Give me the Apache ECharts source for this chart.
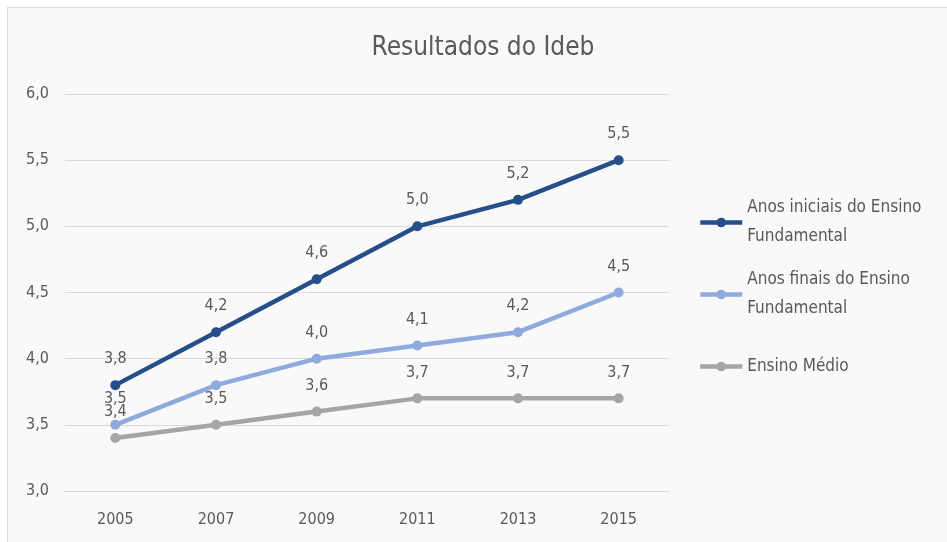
<!DOCTYPE html>
<html>
<head>
<meta charset="utf-8">
<script src="https://cdn.jsdelivr.net/npm/echarts@6/dist/echarts.min.js"></script>
<style>
  html, body { margin: 0; padding: 0; background: #ffffff; overflow: hidden; }
  #chart {
    position: absolute;
    left: 7px;
    top: 7px;
    width: 939px;
    height: 534px;
    border-left: 1px solid #d9d9d9;
    border-top: 1px solid #d9d9d9;
    background: #f9f9f9;
  }
</style>
</head>
<body>
<div id="chart"></div>
<script>
const years = ['2005', '2007', '2009', '2011', '2013', '2015']
const anosIniciais = [3.8, 4.2, 4.6, 5.0, 5.2, 5.5]
const anosFinais = [3.5, 3.8, 4.0, 4.1, 4.2, 4.5]
const ensinoMedio = [3.4, 3.5, 3.6, 3.7, 3.7, 3.7]
const yTicks = [3.0, 3.5, 4.0, 4.5, 5.0, 5.5, 6.0]

const fontFamily = '"Liberation Sans Narrow", "DejaVu Sans Condensed", Lato, sans-serif'
const textColor = '#595959'
const fmt = (v) => Number(v).toFixed(1).replace('.', ',')

function lineSeries(name, data, color) {
  return {
    name: name,
    type: 'line',
    data: data,
    symbol: 'circle',
    symbolSize: 10,
    lineStyle: { width: 4.5, color: color },
    itemStyle: { color: color },
    label: {
      show: true,
      position: 'top',
      distance: 13,
      color: textColor,
      fontFamily: fontFamily,
      fontSize: 16,
      formatter: (p) => fmt(p.value),
    },
  }
}

const chart = echarts.init(document.getElementById('chart'))
chart.setOption({
  backgroundColor: '#f9f9f9',
  animation: false,
  graphic: [
    {
      type: 'text',
      x: 475,
      y: 40,
      style: {
        text: 'Resultados do Ideb',
        fill: textColor,
        font: '26px ' + fontFamily,
        textAlign: 'center',
        textVerticalAlign: 'middle',
      },
    },
  ],
  legend: {
    orient: 'vertical',
    left: 690,
    top: 171,
    padding: 0,
    itemWidth: 42,
    itemHeight: 12,
    itemGap: -15,
    lineStyle: { width: 4.5 },
    textStyle: { color: textColor, fontFamily: fontFamily, fontSize: 17, lineHeight: 29 },
    data: [
      { name: 'Anos iniciais do Ensino\nFundamental', textStyle: { padding: [29, 0, 0, 0] } },
      { name: 'Anos finais do Ensino\nFundamental', textStyle: { padding: [29, 0, 0, 0] } },
      { name: 'Ensino Médio', textStyle: { padding: [29, 0, 29, 0] } },
    ],
  },
  grid: { left: 57, top: 86, width: 604, height: 397, containLabel: false },
  xAxis: {
    type: 'category',
    data: years,
    boundaryGap: true,
    axisLine: { lineStyle: { color: '#d9d9d9', width: 1 } },
    axisTick: { show: false },
    axisLabel: { color: textColor, fontFamily: fontFamily, fontSize: 16, margin: 21 },
  },
  yAxis: {
    type: 'value',
    min: yTicks[0],
    max: yTicks[yTicks.length - 1],
    interval: 0.5,
    axisLine: { show: false },
    axisTick: { show: false },
    splitLine: { lineStyle: { color: '#d9d9d9', width: 1 } },
    axisLabel: { color: textColor, fontFamily: fontFamily, fontSize: 16, margin: 16, formatter: fmt },
  },
  series: [
    lineSeries('Anos iniciais do Ensino\nFundamental', anosIniciais, '#264f8a'),
    lineSeries('Anos finais do Ensino\nFundamental', anosFinais, '#8faadc'),
    lineSeries('Ensino Médio', ensinoMedio, '#a5a5a5'),
  ],
})
</script>
</body>
</html>
